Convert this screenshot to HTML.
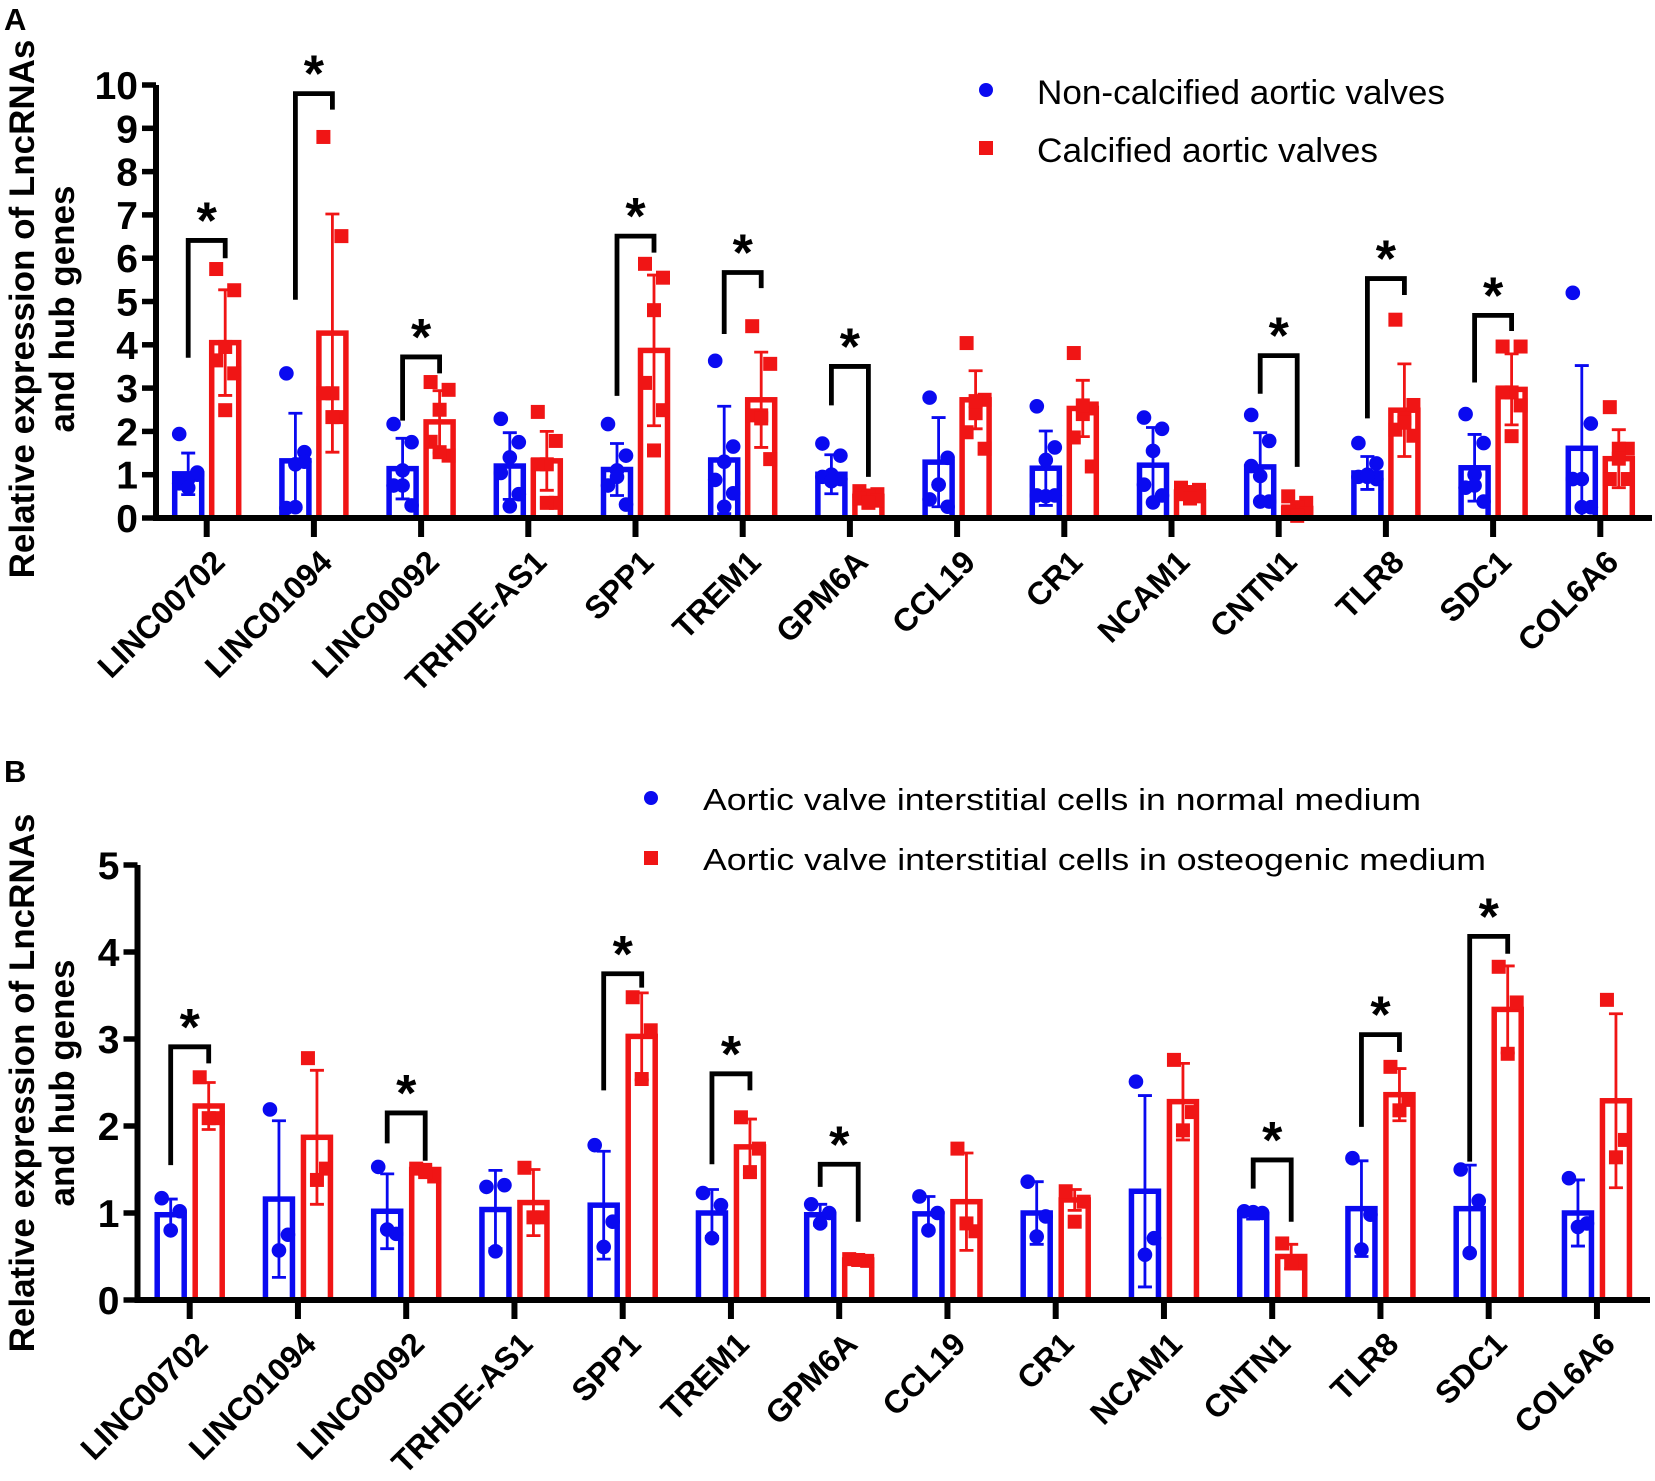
<!DOCTYPE html>
<html>
<head>
<meta charset="utf-8">
<style>
html,body{margin:0;padding:0;background:#fff;}
svg{display:block;font-family:"Liberation Sans",Arial,sans-serif;}
</style>
</head>
<body>
<svg id="fig" width="1655" height="1481" viewBox="0 0 1655 1481" xmlns="http://www.w3.org/2000/svg">
  <g id="panelA"></g>
  <g id="panelB"></g>
</svg>
<script>
const genes = ["LINC00702","LINC01094","LINC00092","TRHDE-AS1","SPP1","TREM1","GPM6A","CCL19","CR1","NCAM1","CNTN1","TLR8","SDC1","COL6A6"];

// Panel A data
const blueMeanA = [1.02,1.32,1.14,1.2,1.12,1.34,1.01,1.29,1.15,1.22,1.18,1.04,1.16,1.61];
const blueSdA = [0.48,1.1,0.7,0.77,0.6,1.24,0.45,1.03,0.86,0.87,0.79,0.38,0.77,1.91];
const redMeanA = [4.05,4.27,2.22,1.32,3.87,2.73,0.5,2.73,2.53,0.6,0.22,2.49,2.97,1.37];
const redSdA = [1.22,2.75,0.72,0.68,1.74,1.1,0.15,0.67,0.65,0.12,0.15,1.07,0.82,0.67];
const bluePtsA = [[1.94,1.0,0.9,0.8,1.05,0.7],[3.34,1.52,1.24,0.23,1.3,0.25],[2.17,1.75,0.75,0.75,0.29,1.1],[2.29,1.75,1.4,1.04,0.55,0.27],[2.17,1.44,1.1,0.75,0.31,0.95],[3.63,1.65,1.3,0.88,0.57,0.26],[1.72,1.44,1.0,0.95,0.9,0.85],[2.78,1.39,0.77,0.43,0.26,0.77],[2.58,1.63,1.34,0.52,0.52,0.5],[2.32,2.06,1.55,0.77,0.52,0.36],[2.38,1.78,0.97,1.2,0.38,0.38],[1.73,1.26,1.0,0.95,0.9,0.95],[2.4,1.73,1.0,0.7,0.38,0.75],[5.2,2.18,0.9,0.9,0.25,0.25]];
const redPtsA = [[5.75,5.26,3.95,3.64,3.34,2.49],[8.8,6.51,2.88,2.88,2.33,2.33],[3.14,2.96,2.5,1.76,1.44,1.52],[2.45,1.78,1.24,1.24,0.35,0.35],[5.87,5.55,4.8,3.12,2.49,1.56],[4.43,3.56,2.37,2.37,1.36,2.3],[0.62,0.55,0.5,0.45,0.4,0.35],[4.04,2.73,2.42,1.98,1.6,2.7],[3.81,2.53,2.4,1.86,1.19,2.6],[0.7,0.65,0.6,0.55,0.5,0.45],[0.5,0.35,0.25,0.15,0.1,0.05],[4.58,2.61,2.3,2.04,1.9,2.2],[3.96,3.96,2.9,2.9,2.6,1.89],[2.56,1.6,1.6,0.9,0.9,1.37]];
const sigGeneA = [0,1,2,4,5,6,10,11,12];
const sigTopA = [6.41,9.8,3.72,6.51,5.67,3.5,3.75,5.53,4.68];
const sigLeftA = [3.7,5.04,2.25,2.82,4.25,2.6,2.87,2.3,3.13];
const sigRightA = [6.0,9.43,3.34,6.13,5.31,0.95,1.18,5.15,4.32];
const yTicksA = [0,1,2,3,4,5,6,7,8,9,10];
const legendA = ["Non-calcified aortic valves","Calcified aortic valves"];

// Panel B data
const blueMeanB = [0.98,1.16,1.02,1.04,1.09,1.0,0.98,0.99,1.0,1.25,0.98,1.05,1.05,1.0];
const blueSdB = [0.18,0.9,0.43,0.45,0.62,0.27,0.12,0.2,0.36,1.1,0.05,0.55,0.5,0.38];
const redMeanB = [2.23,1.87,1.5,1.12,3.03,1.76,0.46,1.13,1.15,2.28,0.5,2.36,3.34,2.29];
const redSdB = [0.27,0.77,0.06,0.38,0.5,0.32,0.03,0.56,0.12,0.44,0.14,0.3,0.5,1.0];
const bluePtsB = [[1.17,1.02,0.8],[2.19,0.75,0.57],[1.53,0.76,0.81],[1.3,1.32,0.56],[1.78,0.9,0.61],[1.23,1.09,0.71],[1.1,1.0,0.88],[1.19,1.0,0.8],[1.36,0.96,0.73],[2.51,0.71,0.52],[1.02,1.0,1.01],[1.63,0.98,0.58],[1.5,1.14,0.54],[1.4,0.88,0.84]];
const redPtsB = [[2.56,2.09,2.09],[2.78,1.51,1.38],[1.51,1.42,1.47],[1.52,0.95,0.95],[3.48,3.1,2.54],[2.1,1.74,1.47],[0.47,0.45,0.46],[1.74,0.79,0.88],[1.25,1.13,0.9],[2.76,2.16,1.95],[0.65,0.42,0.42],[2.68,2.3,2.18],[3.83,3.42,2.83],[3.45,1.84,1.64]];
const sigGeneB = [0,2,4,5,6,10,11,12];
const sigTopB = [2.91,2.15,3.75,2.6,1.56,1.61,3.05,4.18];
const sigLeftB = [1.55,1.8,2.41,1.56,1.3,1.28,1.99,1.59];
const sigRightB = [2.72,1.6,3.59,2.41,0.9,0.9,2.85,3.98];
const yTicksB = [0,1,2,3,4,5];
const legendB = ["Aortic valve interstitial cells in normal medium","Aortic valve interstitial cells in osteogenic medium"];

const NS = "http://www.w3.org/2000/svg";
const BLUE = "#0a0af0", RED = "#f01515";
function mk(parent, tag, attrs){
  const e = document.createElementNS(NS, tag);
  for (const k in attrs) e.setAttribute(k, attrs[k]);
  parent.appendChild(e);
  return e;
}

function drawPanel(g, cfg, d){
  const yS = v => cfg.zeroY - v * cfg.unit;
  const xS = i => cfg.cat0 + i * cfg.catStep;

  const L = mk(g, "text", {x: 4, y: cfg.letterY, "font-size": 31, "font-weight": "bold"});
  L.textContent = cfg.letter;
  
  

  const yt = mk(g, "text", {transform: `translate(${cfg.titleX},${cfg.titleY}) rotate(-90)`, "text-anchor": "middle", "font-size": 35, "font-weight": "bold"});
  
  
  const t1 = mk(yt, "tspan", {x: 0, y: 0}); t1.textContent = "Relative expression of LncRNAs";
  const t2 = mk(yt, "tspan", {x: 0, y: cfg.titleGap}); t2.textContent = "and hub genes";

  genes.forEach((gn, i) => {
    const grp = mk(g, "g", {});
    
    
    [[d.blueMean, d.blueSd, d.bluePts, BLUE, -1], [d.redMean, d.redSd, d.redPts, RED, 1]].forEach(([mean, sd, pts, col, side]) => {
      const cx = xS(i) + side * cfg.barOff;
      const top = yS(mean[i]);
      const bar = mk(grp, "rect", {x: cx - cfg.barW/2, y: top, width: cfg.barW, height: cfg.zeroY - top, fill: "none", stroke: col, "stroke-width": 5.5});
      
      
      const hi = yS(mean[i] + sd[i]), lo = yS(Math.max(0, mean[i] - sd[i]));
      const eb = mk(grp, "path", {d: `M${cx},${hi}V${lo}M${cx-7},${hi}H${cx+7}M${cx-7},${lo}H${cx+7}`, stroke: col, "stroke-width": 2.8, fill: "none"});
      
      
      const n = pts[i].length;
      const offs = n === 3 ? [-9, 9, 0] : [-9, 9, 0, -9, 9, 0];
      pts[i].forEach((v, k) => {
        const px = cx + offs[k], py = yS(v);
        let m;
        if (side < 0) m = mk(grp, "circle", {cx: px, cy: py, r: 7.3, fill: col});
        else m = mk(grp, "rect", {x: px - 7, y: py - 7, width: 14, height: 14, fill: col});
        
        
      });
    });
  });

  const ax = mk(g, "path", {d: `M${cfg.axisX},${yS(cfg.yTicks[cfg.yTicks.length-1])}V${cfg.zeroY+3}M${cfg.axisX-3},${cfg.zeroY}H${cfg.xEnd}`, stroke: "#000", "stroke-width": 6, fill: "none"});
  
  
  cfg.yTicks.forEach(v => {
    const y = yS(v);
    const tk = mk(g, "line", {x1: cfg.axisX - 14, x2: cfg.axisX, y1: y, y2: y, stroke: "#000", "stroke-width": 5.5});
    
    
    const tl = mk(g, "text", {x: cfg.axisX - 18, y: y + 14, "text-anchor": "end", "font-size": 39, "font-weight": "bold"});
    tl.textContent = v;
    
    
  });
  genes.forEach((gn, i) => {
    const x = xS(i);
    const tk = mk(g, "line", {x1: x, x2: x, y1: cfg.zeroY, y2: cfg.zeroY + 19, stroke: "#000", "stroke-width": 6});
    
    
    const tl = mk(g, "text", {transform: `translate(${x + 20},${cfg.zeroY + 46}) rotate(-45)`, "text-anchor": "end", "font-size": 32, "font-weight": "bold"});
    tl.textContent = gn;
    
    
  });

  d.sigGene.forEach((gi, k) => {
    const xl = xS(gi) - cfg.barOff, xr = xS(gi) + cfg.barOff;
    const yt2 = yS(d.sigTop[k]);
    const br = mk(g, "path", {d: `M${xl},${yS(d.sigLeft[k])}V${yt2}H${xr}V${yS(d.sigRight[k])}`, stroke: "#000", "stroke-width": 4.8, fill: "none"});
    
    
    const st = mk(g, "text", {x: (xl + xr) / 2, y: yt2 - 2, "text-anchor": "middle", "font-size": 52, "font-weight": "bold"});
    st.textContent = "*";
    
    
  });

  const lg = mk(g, "g", {});
  
  
  const c = mk(lg, "circle", {cx: cfg.legX, cy: cfg.legY1, r: 7, fill: BLUE});
  
  
  const s = mk(lg, "rect", {x: cfg.legX - 7, y: cfg.legY2 - 7, width: 14, height: 14, fill: RED});
  
  
  [[cfg.legY1, d.legend[0], cfg.legW1], [cfg.legY2, d.legend[1], cfg.legW2]].forEach(([y, txt, w], k) => {
    const t = mk(lg, "text", {x: cfg.legTX, y: y + cfg.legBase, "font-size": cfg.legFont, textLength: w, lengthAdjust: "spacingAndGlyphs"});
    t.textContent = txt;
    
    
  });
}

drawPanel(document.getElementById("panelA"), {
  letter: "A", letterY: 30, titleX: 34, titleY: 309, titleGap: 40,
  axisX: 156, zeroY: 518, unit: 43.3, cat0: 206.7, catStep: 107.2, barOff: 18.5, barW: 27,
  xEnd: 1652, yTicks: yTicksA,
  legX: 986, legY1: 90, legY2: 148, legTX: 1037, legBase: 14, legFont: 34, legW1: 408, legW2: 341
}, {blueMean: blueMeanA, blueSd: blueSdA, redMean: redMeanA, redSd: redSdA, bluePts: bluePtsA, redPts: redPtsA,
    sigGene: sigGeneA, sigTop: sigTopA, sigLeft: sigLeftA, sigRight: sigRightA, legend: legendA});

drawPanel(document.getElementById("panelB"), {
  letter: "B", letterY: 782, titleX: 34, titleY: 1083, titleGap: 40,
  axisX: 137.5, zeroY: 1300, unit: 87, cat0: 189.7, catStep: 108.25, barOff: 19, barW: 27,
  xEnd: 1650, yTicks: yTicksB,
  legX: 651, legY1: 798, legY2: 858, legTX: 703, legBase: 12, legFont: 31, legW1: 718, legW2: 783
}, {blueMean: blueMeanB, blueSd: blueSdB, redMean: redMeanB, redSd: redSdB, bluePts: bluePtsB, redPts: redPtsB,
    sigGene: sigGeneB, sigTop: sigTopB, sigLeft: sigLeftB, sigRight: sigRightB, legend: legendB});
</script>
</body>
</html>
